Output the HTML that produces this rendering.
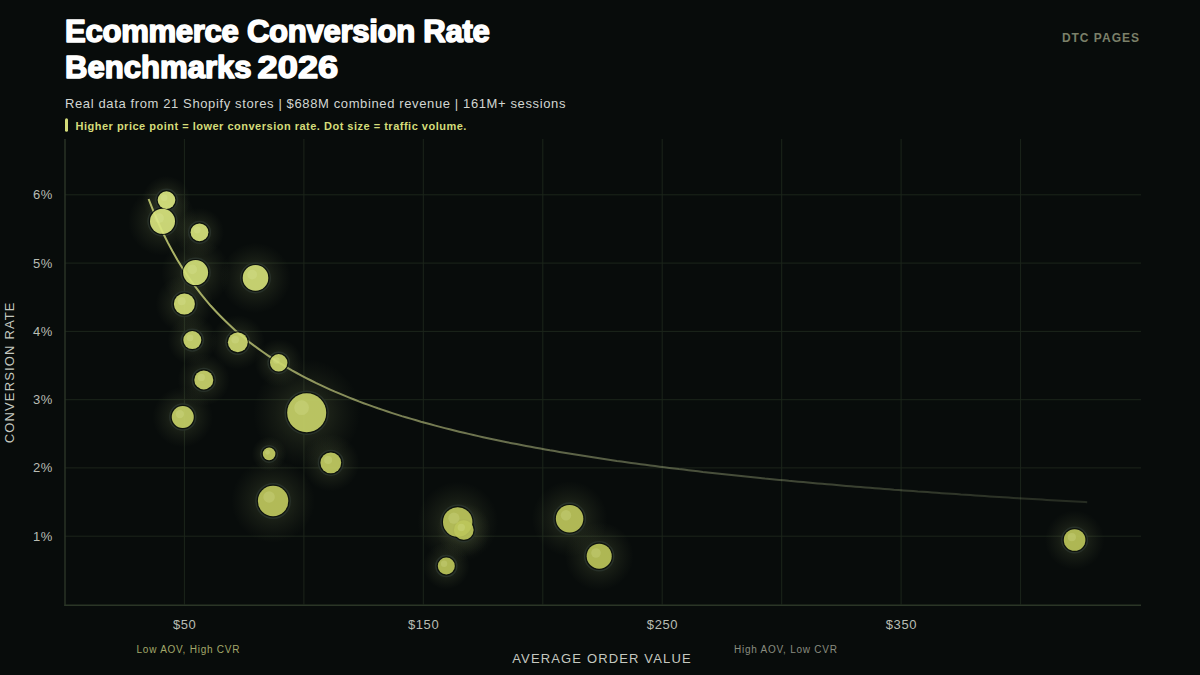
<!DOCTYPE html><html><head><meta charset="utf-8"><style>*{margin:0;padding:0}html,body{width:1200px;height:675px;overflow:hidden;background:#080c0b}
svg{display:block}
text{font-family:"Liberation Sans",sans-serif}
.t1{font-size:31.1px;font-weight:700;fill:#ffffff;stroke:#ffffff;stroke-width:1.6px;stroke-linejoin:round;letter-spacing:-0.3px}
.t2{font-size:31.1px;font-weight:700;fill:#ffffff;stroke:#ffffff;stroke-width:1.6px;stroke-linejoin:round;letter-spacing:0px}
.t2b{font-size:31.1px;font-weight:700;fill:#ffffff;stroke:#ffffff;stroke-width:1.5px;stroke-linejoin:round;letter-spacing:0px}
.sub{font-size:13px;fill:#d2d6d2;letter-spacing:0.62px}
.ann{font-size:11px;font-weight:700;fill:#d4dc7a;letter-spacing:0.5px}
.brand{font-size:12px;font-weight:700;fill:#7b8069;letter-spacing:1px}
.tick{font-size:13px;fill:#b9bdb4;letter-spacing:0.6px}
.note{font-size:10px;letter-spacing:0.76px}
.axt{font-size:13px;fill:#c5c9c0;letter-spacing:1.15px}
</style></head><body><svg width="1200" height="675" viewBox="0 0 1200 675"><defs>
<radialGradient id="glow"><stop offset="0.36" stop-color="#94a464" stop-opacity="0.15"/><stop offset="0.6" stop-color="#94a464" stop-opacity="0.085"/><stop offset="0.82" stop-color="#94a464" stop-opacity="0.035"/><stop offset="1" stop-color="#94a464" stop-opacity="0"/></radialGradient>
<linearGradient id="tl" gradientUnits="userSpaceOnUse" x1="148" y1="0" x2="1088" y2="0"><stop offset="0" stop-color="#b2ba68"/><stop offset="0.25" stop-color="#b4bb78" stop-opacity="0.68"/><stop offset="0.55" stop-color="#b5c08c" stop-opacity="0.40"/><stop offset="0.875" stop-color="#b5c48e" stop-opacity="0.22"/><stop offset="1" stop-color="#b5c48e" stop-opacity="0.17"/></linearGradient>
</defs><rect width="1200" height="675" fill="#080c0b"/><g stroke="#1c251b" stroke-width="1"><line x1="65" y1="536.2" x2="1141" y2="536.2"/><line x1="65" y1="467.9" x2="1141" y2="467.9"/><line x1="65" y1="399.7" x2="1141" y2="399.7"/><line x1="65" y1="331.4" x2="1141" y2="331.4"/><line x1="65" y1="263.1" x2="1141" y2="263.1"/><line x1="65" y1="194.8" x2="1141" y2="194.8"/><line x1="184.4" y1="139" x2="184.4" y2="604.5"/><line x1="303.9" y1="139" x2="303.9" y2="604.5"/><line x1="423.3" y1="139" x2="423.3" y2="604.5"/><line x1="542.8" y1="139" x2="542.8" y2="604.5"/><line x1="662.2" y1="139" x2="662.2" y2="604.5"/><line x1="781.7" y1="139" x2="781.7" y2="604.5"/><line x1="901.1" y1="139" x2="901.1" y2="604.5"/><line x1="1020.6" y1="139" x2="1020.6" y2="604.5"/></g><g stroke="#2b3627" stroke-width="1.4"><line x1="65" y1="139" x2="65" y2="605.9"/><line x1="64.3" y1="605.2" x2="1141" y2="605.2"/></g><circle cx="166.5" cy="200.1" r="24.2" fill="url(#glow)"/><circle cx="162.5" cy="221.3" r="34.4" fill="url(#glow)"/><circle cx="199.5" cy="232.3" r="24.5" fill="url(#glow)"/><circle cx="195.6" cy="272.6" r="34.4" fill="url(#glow)"/><circle cx="255.5" cy="277.9" r="35.2" fill="url(#glow)"/><circle cx="184.4" cy="304.0" r="28.9" fill="url(#glow)"/><circle cx="192.3" cy="340.1" r="24.8" fill="url(#glow)"/><circle cx="237.8" cy="342.3" r="27.2" fill="url(#glow)"/><circle cx="278.7" cy="362.8" r="23.9" fill="url(#glow)"/><circle cx="203.8" cy="379.9" r="26.1" fill="url(#glow)"/><circle cx="306.7" cy="412.8" r="53.6" fill="url(#glow)"/><circle cx="182.75" cy="417.0" r="30.2" fill="url(#glow)"/><circle cx="269.1" cy="453.9" r="17.3" fill="url(#glow)"/><circle cx="330.8" cy="462.8" r="28.6" fill="url(#glow)"/><circle cx="273.1" cy="501.0" r="41.8" fill="url(#glow)"/><circle cx="457.7" cy="522.0" r="40.4" fill="url(#glow)"/><circle cx="463.8" cy="530.0" r="27.0" fill="url(#glow)"/><circle cx="446.3" cy="566.0" r="23.4" fill="url(#glow)"/><circle cx="569.6" cy="518.8" r="37.8" fill="url(#glow)"/><circle cx="599.2" cy="556.2" r="34.4" fill="url(#glow)"/><circle cx="1074.6" cy="540.0" r="29.7" fill="url(#glow)"/><circle cx="166.5" cy="200.1" r="10.7" fill="none" stroke="#29322b" stroke-opacity="0.9" stroke-width="1.6"/><circle cx="162.5" cy="221.3" r="14.4" fill="none" stroke="#29322b" stroke-opacity="0.9" stroke-width="1.6"/><circle cx="199.5" cy="232.3" r="10.8" fill="none" stroke="#29322b" stroke-opacity="0.9" stroke-width="1.6"/><circle cx="195.6" cy="272.6" r="14.4" fill="none" stroke="#29322b" stroke-opacity="0.9" stroke-width="1.6"/><circle cx="255.5" cy="277.9" r="14.7" fill="none" stroke="#29322b" stroke-opacity="0.9" stroke-width="1.6"/><circle cx="184.4" cy="304.0" r="12.4" fill="none" stroke="#29322b" stroke-opacity="0.9" stroke-width="1.6"/><circle cx="192.3" cy="340.1" r="10.9" fill="none" stroke="#29322b" stroke-opacity="0.9" stroke-width="1.6"/><circle cx="237.8" cy="342.3" r="11.8" fill="none" stroke="#29322b" stroke-opacity="0.9" stroke-width="1.6"/><circle cx="278.7" cy="362.8" r="10.6" fill="none" stroke="#29322b" stroke-opacity="0.9" stroke-width="1.6"/><circle cx="203.8" cy="379.9" r="11.4" fill="none" stroke="#29322b" stroke-opacity="0.9" stroke-width="1.6"/><circle cx="306.7" cy="412.8" r="21.4" fill="none" stroke="#29322b" stroke-opacity="0.9" stroke-width="1.6"/><circle cx="182.75" cy="417.0" r="12.9" fill="none" stroke="#29322b" stroke-opacity="0.9" stroke-width="1.6"/><circle cx="269.1" cy="453.9" r="8.2" fill="none" stroke="#29322b" stroke-opacity="0.9" stroke-width="1.6"/><circle cx="330.8" cy="462.8" r="12.3" fill="none" stroke="#29322b" stroke-opacity="0.9" stroke-width="1.6"/><circle cx="273.1" cy="501.0" r="17.1" fill="none" stroke="#29322b" stroke-opacity="0.9" stroke-width="1.6"/><circle cx="457.7" cy="522.0" r="16.6" fill="none" stroke="#29322b" stroke-opacity="0.9" stroke-width="1.6"/><circle cx="463.8" cy="530.0" r="11.7" fill="none" stroke="#29322b" stroke-opacity="0.9" stroke-width="1.6"/><circle cx="446.3" cy="566.0" r="10.4" fill="none" stroke="#29322b" stroke-opacity="0.9" stroke-width="1.6"/><circle cx="569.6" cy="518.8" r="15.7" fill="none" stroke="#29322b" stroke-opacity="0.9" stroke-width="1.6"/><circle cx="599.2" cy="556.2" r="14.4" fill="none" stroke="#29322b" stroke-opacity="0.9" stroke-width="1.6"/><circle cx="1074.6" cy="540.0" r="12.7" fill="none" stroke="#29322b" stroke-opacity="0.9" stroke-width="1.6"/><path d="M148.6,199.0 L153.4,211.2 L158.2,222.4 L162.9,232.8 L167.7,242.4 L172.5,251.3 L177.3,259.7 L182.1,267.5 L186.8,274.8 L191.6,281.7 L196.4,288.2 L201.2,294.4 L205.9,300.2 L210.7,305.8 L215.5,311.0 L220.3,316.0 L225.1,320.8 L229.8,325.3 L234.6,329.7 L239.4,333.9 L244.2,337.8 L248.9,341.7 L253.7,345.4 L258.5,348.9 L263.3,352.3 L268.1,355.6 L272.8,358.7 L277.6,361.8 L282.4,364.7 L287.2,367.6 L291.9,370.4 L296.7,373.0 L301.5,375.6 L306.3,378.1 L311.1,380.5 L315.8,382.9 L320.6,385.2 L325.4,387.4 L330.2,389.6 L334.9,391.7 L339.7,393.7 L344.5,395.7 L349.3,397.6 L354.1,399.5 L358.8,401.4 L363.6,403.2 L368.4,404.9 L373.2,406.6 L377.9,408.3 L382.7,409.9 L387.5,411.5 L392.3,413.1 L397.1,414.6 L401.8,416.1 L406.6,417.5 L411.4,418.9 L416.2,420.3 L420.9,421.7 L425.7,423.0 L430.5,424.3 L435.3,425.6 L440.1,426.9 L444.8,428.1 L449.6,429.3 L454.4,430.5 L459.2,431.7 L463.9,432.8 L468.7,433.9 L473.5,435.0 L478.3,436.1 L483.1,437.2 L487.8,438.2 L492.6,439.2 L497.4,440.2 L502.2,441.2 L506.9,442.2 L511.7,443.2 L516.5,444.1 L521.3,445.0 L526.1,445.9 L530.8,446.8 L535.6,447.7 L540.4,448.6 L545.2,449.4 L549.9,450.3 L554.7,451.1 L559.5,451.9 L564.3,452.7 L569.1,453.5 L573.8,454.3 L578.6,455.1 L583.4,455.8 L588.2,456.6 L592.9,457.3 L597.7,458.1 L602.5,458.8 L607.3,459.5 L612.1,460.2 L616.8,460.9 L621.6,461.5 L626.4,462.2 L631.2,462.9 L635.9,463.5 L640.7,464.2 L645.5,464.8 L650.3,465.4 L655.1,466.1 L659.8,466.7 L664.6,467.3 L669.4,467.9 L674.2,468.5 L678.9,469.1 L683.7,469.6 L688.5,470.2 L693.3,470.8 L698.1,471.3 L702.8,471.9 L707.6,472.4 L712.4,472.9 L717.2,473.5 L721.9,474.0 L726.7,474.5 L731.5,475.0 L736.3,475.5 L741.1,476.0 L745.8,476.5 L750.6,477.0 L755.4,477.5 L760.2,478.0 L764.9,478.5 L769.7,478.9 L774.5,479.4 L779.3,479.9 L784.1,480.3 L788.8,480.8 L793.6,481.2 L798.4,481.7 L803.2,482.1 L807.9,482.5 L812.7,483.0 L817.5,483.4 L822.3,483.8 L827.1,484.2 L831.8,484.6 L836.6,485.1 L841.4,485.5 L846.2,485.9 L850.9,486.3 L855.7,486.7 L860.5,487.0 L865.3,487.4 L870.1,487.8 L874.8,488.2 L879.6,488.6 L884.4,488.9 L889.2,489.3 L893.9,489.7 L898.7,490.0 L903.5,490.4 L908.3,490.7 L913.1,491.1 L917.8,491.5 L922.6,491.8 L927.4,492.1 L932.2,492.5 L936.9,492.8 L941.7,493.2 L946.5,493.5 L951.3,493.8 L956.1,494.1 L960.8,494.5 L965.6,494.8 L970.4,495.1 L975.2,495.4 L979.9,495.7 L984.7,496.1 L989.5,496.4 L994.3,496.7 L999.1,497.0 L1003.8,497.3 L1008.6,497.6 L1013.4,497.9 L1018.2,498.2 L1022.9,498.5 L1027.7,498.7 L1032.5,499.0 L1037.3,499.3 L1042.1,499.6 L1046.8,499.9 L1051.6,500.2 L1056.4,500.4 L1061.2,500.7 L1065.9,501.0 L1070.7,501.3 L1075.5,501.5 L1080.3,501.8 L1085.1,502.1 L1087.2,502.2" fill="none" stroke="url(#tl)" stroke-width="2"/><circle cx="166.5" cy="200.1" r="9.4" fill="none" stroke="#0a0f0c" stroke-width="1.2" stroke-opacity="0.85"/><circle cx="162.5" cy="221.3" r="13.1" fill="none" stroke="#0a0f0c" stroke-width="1.2" stroke-opacity="0.85"/><circle cx="199.5" cy="232.3" r="9.5" fill="none" stroke="#0a0f0c" stroke-width="1.2" stroke-opacity="0.85"/><circle cx="195.6" cy="272.6" r="13.1" fill="none" stroke="#0a0f0c" stroke-width="1.2" stroke-opacity="0.85"/><circle cx="255.5" cy="277.9" r="13.4" fill="none" stroke="#0a0f0c" stroke-width="1.2" stroke-opacity="0.85"/><circle cx="184.4" cy="304.0" r="11.1" fill="none" stroke="#0a0f0c" stroke-width="1.2" stroke-opacity="0.85"/><circle cx="192.3" cy="340.1" r="9.6" fill="none" stroke="#0a0f0c" stroke-width="1.2" stroke-opacity="0.85"/><circle cx="237.8" cy="342.3" r="10.5" fill="none" stroke="#0a0f0c" stroke-width="1.2" stroke-opacity="0.85"/><circle cx="278.7" cy="362.8" r="9.3" fill="none" stroke="#0a0f0c" stroke-width="1.2" stroke-opacity="0.85"/><circle cx="203.8" cy="379.9" r="10.1" fill="none" stroke="#0a0f0c" stroke-width="1.2" stroke-opacity="0.85"/><circle cx="306.7" cy="412.8" r="20.1" fill="none" stroke="#0a0f0c" stroke-width="1.2" stroke-opacity="0.85"/><circle cx="182.75" cy="417.0" r="11.6" fill="none" stroke="#0a0f0c" stroke-width="1.2" stroke-opacity="0.85"/><circle cx="269.1" cy="453.9" r="6.9" fill="none" stroke="#0a0f0c" stroke-width="1.2" stroke-opacity="0.85"/><circle cx="330.8" cy="462.8" r="11.0" fill="none" stroke="#0a0f0c" stroke-width="1.2" stroke-opacity="0.85"/><circle cx="273.1" cy="501.0" r="15.8" fill="none" stroke="#0a0f0c" stroke-width="1.2" stroke-opacity="0.85"/><circle cx="457.7" cy="522.0" r="15.3" fill="none" stroke="#0a0f0c" stroke-width="1.2" stroke-opacity="0.85"/><circle cx="463.8" cy="530.0" r="10.4" fill="none" stroke="#0a0f0c" stroke-width="1.2" stroke-opacity="0.85"/><circle cx="446.3" cy="566.0" r="9.1" fill="none" stroke="#0a0f0c" stroke-width="1.2" stroke-opacity="0.85"/><circle cx="569.6" cy="518.8" r="14.3" fill="none" stroke="#0a0f0c" stroke-width="1.2" stroke-opacity="0.85"/><circle cx="599.2" cy="556.2" r="13.1" fill="none" stroke="#0a0f0c" stroke-width="1.2" stroke-opacity="0.85"/><circle cx="1074.6" cy="540.0" r="11.4" fill="none" stroke="#0a0f0c" stroke-width="1.2" stroke-opacity="0.85"/><circle cx="166.5" cy="200.1" r="8.8" fill="#dae680" fill-opacity="0.92"/><circle cx="164.2" cy="197.8" r="3.3" fill="#e8f0a8" fill-opacity="0.2"/><circle cx="162.5" cy="221.3" r="12.5" fill="#d8e47e" fill-opacity="0.92"/><circle cx="159.2" cy="218.1" r="4.8" fill="#e8f0a8" fill-opacity="0.2"/><circle cx="199.5" cy="232.3" r="8.9" fill="#d7e37c" fill-opacity="0.92"/><circle cx="197.2" cy="230.0" r="3.4" fill="#e8f0a8" fill-opacity="0.2"/><circle cx="195.6" cy="272.6" r="12.5" fill="#d3df78" fill-opacity="0.92"/><circle cx="192.3" cy="269.4" r="4.8" fill="#e8f0a8" fill-opacity="0.2"/><circle cx="255.5" cy="277.9" r="12.8" fill="#d3de77" fill-opacity="0.92"/><circle cx="252.2" cy="274.6" r="4.9" fill="#e8f0a8" fill-opacity="0.2"/><circle cx="184.4" cy="304.0" r="10.5" fill="#d1dc74" fill-opacity="0.92"/><circle cx="181.7" cy="301.3" r="4.0" fill="#e8f0a8" fill-opacity="0.2"/><circle cx="192.3" cy="340.1" r="9.0" fill="#cdd870" fill-opacity="0.92"/><circle cx="190.0" cy="337.8" r="3.4" fill="#e8f0a8" fill-opacity="0.2"/><circle cx="237.8" cy="342.3" r="9.9" fill="#cdd870" fill-opacity="0.92"/><circle cx="235.2" cy="339.7" r="3.8" fill="#e8f0a8" fill-opacity="0.2"/><circle cx="278.7" cy="362.8" r="8.7" fill="#cbd66d" fill-opacity="0.92"/><circle cx="276.4" cy="360.5" r="3.3" fill="#e8f0a8" fill-opacity="0.2"/><circle cx="203.8" cy="379.9" r="9.5" fill="#cad46b" fill-opacity="0.92"/><circle cx="201.3" cy="377.4" r="3.6" fill="#e8f0a8" fill-opacity="0.2"/><circle cx="306.7" cy="412.8" r="19.5" fill="#c7d168" fill-opacity="0.92"/><circle cx="301.6" cy="407.7" r="7.4" fill="#e8f0a8" fill-opacity="0.2"/><circle cx="182.75" cy="417.0" r="11.0" fill="#c6d067" fill-opacity="0.92"/><circle cx="179.9" cy="414.1" r="4.2" fill="#e8f0a8" fill-opacity="0.2"/><circle cx="269.1" cy="453.9" r="6.3" fill="#c3cd63" fill-opacity="0.92"/><circle cx="267.5" cy="452.3" r="2.4" fill="#e8f0a8" fill-opacity="0.2"/><circle cx="330.8" cy="462.8" r="10.4" fill="#c2cc62" fill-opacity="0.92"/><circle cx="328.1" cy="460.1" r="4.0" fill="#e8f0a8" fill-opacity="0.2"/><circle cx="273.1" cy="501.0" r="15.2" fill="#bfc85d" fill-opacity="0.92"/><circle cx="269.1" cy="497.0" r="5.8" fill="#e8f0a8" fill-opacity="0.2"/><circle cx="457.7" cy="522.0" r="14.7" fill="#bdc65b" fill-opacity="0.92"/><circle cx="453.9" cy="518.2" r="5.6" fill="#e8f0a8" fill-opacity="0.2"/><circle cx="463.8" cy="530.0" r="9.8" fill="#bcc55a" fill-opacity="0.92"/><circle cx="461.3" cy="527.5" r="3.7" fill="#e8f0a8" fill-opacity="0.2"/><circle cx="446.3" cy="566.0" r="8.5" fill="#bbc459" fill-opacity="0.92"/><circle cx="444.1" cy="563.8" r="3.2" fill="#e8f0a8" fill-opacity="0.2"/><circle cx="569.6" cy="518.8" r="13.75" fill="#bdc65b" fill-opacity="0.92"/><circle cx="566.0" cy="515.2" r="5.2" fill="#e8f0a8" fill-opacity="0.2"/><circle cx="599.2" cy="556.2" r="12.5" fill="#bbc459" fill-opacity="0.92"/><circle cx="596.0" cy="553.0" r="4.8" fill="#e8f0a8" fill-opacity="0.2"/><circle cx="1074.6" cy="540.0" r="10.8" fill="#bbc459" fill-opacity="0.92"/><circle cx="1071.8" cy="537.2" r="4.1" fill="#e8f0a8" fill-opacity="0.2"/><text x="53" y="540.7" text-anchor="end" class="tick">1%</text><text x="53" y="472.4" text-anchor="end" class="tick">2%</text><text x="53" y="404.2" text-anchor="end" class="tick">3%</text><text x="53" y="335.9" text-anchor="end" class="tick">4%</text><text x="53" y="267.6" text-anchor="end" class="tick">5%</text><text x="53" y="199.3" text-anchor="end" class="tick">6%</text><text x="184.7" y="629.3" text-anchor="middle" class="tick">$50</text><text x="423.6" y="629.3" text-anchor="middle" class="tick">$150</text><text x="662.5" y="629.3" text-anchor="middle" class="tick">$250</text><text x="901.4" y="629.3" text-anchor="middle" class="tick">$350</text><text x="188.4" y="653" text-anchor="middle" class="note" fill="#a3a86a">Low AOV, High CVR</text><text x="785.9" y="653" text-anchor="middle" class="note" fill="#8a8d80">High AOV, Low CVR</text><text x="602" y="663" text-anchor="middle" class="axt">AVERAGE ORDER VALUE</text><text transform="translate(14.2,372.3) rotate(-90)" x="0" y="0" text-anchor="middle" class="axt">CONVERSION RATE</text><text x="65" y="41.7" class="t1">Ecommerce Conversion Rate</text><text x="65" y="77.7" class="t2">Benchmarks</text><text transform="translate(257.6,77.7) scale(1.165,1)" class="t2b">2026</text><text x="65" y="107.7" class="sub">Real data from 21 Shopify stores | $688M combined revenue | 161M+ sessions</text><rect x="65" y="118.2" width="3" height="13.5" rx="1.5" fill="#d4dc7a"/><text x="75.5" y="129.6" class="ann">Higher price point = lower conversion rate. Dot size = traffic volume.</text><text x="1140" y="41.9" text-anchor="end" class="brand">DTC PAGES</text></svg></body></html>
